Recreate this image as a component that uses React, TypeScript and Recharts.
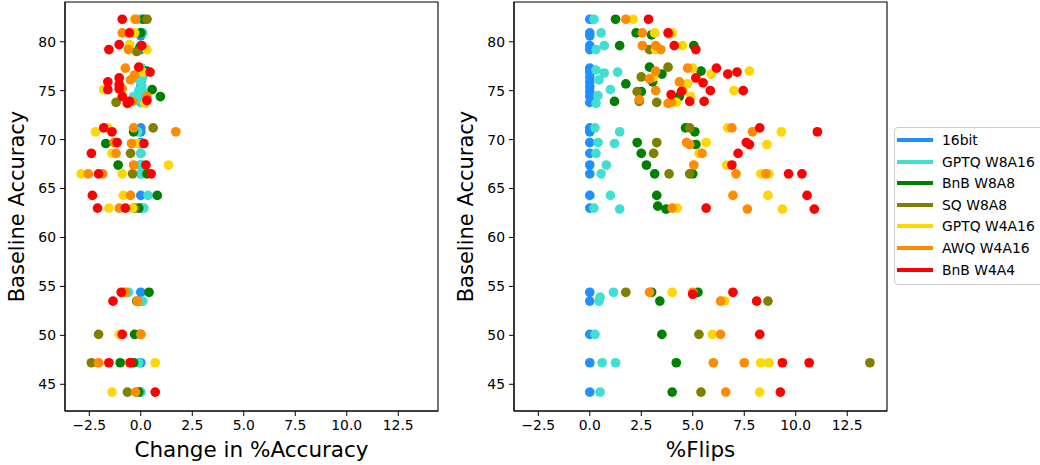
import React from 'react';
import { ScatterChart, Scatter, XAxis, YAxis, ReferenceArea } from 'recharts';

type Pt = [number, number]; // [baseline accuracy, value]

const SERIES_NAMES = ['16bit', 'GPTQ W8A16', 'BnB W8A8', 'SQ W8A8', 'GPTQ W4A16', 'AWQ W4A16', 'BnB W4A4'];
const SERIES_COLORS = ['#1E90FF', '#40E0D0', '#008000', '#808000', '#FFD700', '#FF8C00', '#FF0000'];

const X_TICKS = [-2.5, 0, 2.5, 5, 7.5, 10, 12.5];
const Y_TICKS = [45, 50, 55, 60, 65, 70, 75, 80];
const X_DOMAIN: [number, number] = [-3.68, 14.43];
const Y_DOMAIN: [number, number] = [42.27, 84.06];

// 16bit baselines (change = 0, flips = 0)
const baselines16bit = [82.3, 80.9, 80.6, 79.6, 79.2, 77.3, 76.9, 76.4, 75.9, 75.4, 74.9, 74.4, 73.8, 71.2, 70.8, 69.7, 68.6, 67.4, 66.5, 64.3, 63.0, 54.4, 53.5, 50.1, 47.2, 44.2];
const zeros16bit = [0, 0, 0, 0, 0, 0, 0, 0, 0, 0, 0, 0, 0, 0, 0, 0, 0, 0, 0, 0, 0, 0, 0, 0, 0, 0];

// ---- Change in %Accuracy ----
const accGPTQ_W8A16: Pt[] = [[82.3, 0.0], [80.9, 0.1], [79.4, 0.0], [77.3, 0.05], [77.0, 0.15], [76.4, 0.1], [76.0, -0.05], [75.4, 0.05], [75.1, 0.0], [75.0, -0.1], [74.9, 0.1], [74.4, -0.35], [74.4, 0.0], [73.8, 0.05], [70.8, -0.15], [69.6, -0.05], [68.6, 0.0], [67.4, 0.05], [66.5, 0.0], [64.3, 0.35], [63.0, 0.15], [54.4, -0.6], [53.5, 0.1], [50.1, -0.05], [47.2, -0.1], [44.2, 0.0]];
const accBnB_W8A8: Pt[] = [[82.3, 0.15], [80.9, 0.0], [79.4, -0.05], [77.0, 0.3], [75.1, 0.55], [74.4, 0.95], [70.8, -0.35], [69.6, -1.7], [67.4, -1.1], [66.5, 0.3], [64.3, 0.8], [63.0, -0.1], [54.4, 0.4], [50.1, -0.3], [47.2, -1.0], [47.2, -0.35], [44.2, -0.1]];
const accSQ_W8A8: Pt[] = [[82.3, 0.3], [79.0, -0.2], [73.8, -1.2], [71.2, 0.6], [68.6, -0.5], [66.5, -0.4], [63.0, -0.3], [53.5, -0.2], [50.1, -2.05], [47.2, -2.4], [44.2, -0.65]];
const accGPTQ_W4A16: Pt[] = [[82.3, -0.3], [80.9, -0.3], [79.7, -0.55], [79.2, 0.3], [76.9, 0.1], [75.1, -1.8], [73.7, 0.2], [71.2, -1.6], [70.8, -2.2], [69.6, -0.25], [68.6, -1.4], [67.4, 1.35], [66.5, -2.9], [66.5, -0.9], [64.3, -0.85], [63.0, -1.55], [63.0, -0.4], [54.4, -0.8], [50.1, -1.05], [47.2, 0.7], [44.2, -1.4]];
const accAWQ_W4A16: Pt[] = [[82.3, -0.25], [80.9, -0.9], [79.2, -0.6], [77.3, -0.75], [76.6, -0.3], [76.1, -0.5], [75.2, -0.9], [74.4, 0.3], [73.9, -0.4], [71.2, -0.35], [70.8, 1.7], [69.7, -1.3], [69.6, -0.45], [68.6, -1.2], [67.4, -0.35], [66.5, -2.55], [66.5, -1.85], [64.3, -0.5], [63.0, -1.05], [54.4, -0.75], [53.5, -0.15], [50.1, 0.0], [47.2, -2.05], [47.2, -0.55], [44.2, -0.25]];
const accBnB_W4A4: Pt[] = [[82.3, -0.9], [80.9, -0.55], [79.7, -1.05], [79.2, -1.55], [79.6, 0.05], [77.4, -0.1], [76.9, 0.45], [76.3, -1.05], [75.9, -1.6], [75.6, -1.05], [75.1, -1.6], [75.2, -1.05], [74.4, -0.9], [73.9, -0.55], [73.7, -0.65], [74.0, 0.3], [71.2, -1.8], [70.8, -1.4], [69.7, -1.15], [69.6, 0.15], [68.6, -2.4], [67.4, 0.25], [66.5, -2.05], [66.5, 0.5], [64.3, -2.35], [63.0, -2.1], [63.0, -0.75], [54.4, -0.95], [53.5, -1.35], [50.1, -0.9], [47.2, -1.55], [47.2, -0.5], [44.2, 0.7]];

// ---- %Flips ----
const flipsGPTQ_W8A16: Pt[] = [[82.3, 0.2], [80.9, 0.55], [79.6, 0.7], [79.2, 0.3], [77.1, 0.3], [76.9, 1.35], [76.8, 0.7], [76.1, 0.45], [75.1, 1.0], [74.5, 0.4], [73.7, 0.3], [71.2, 0.25], [70.8, 1.45], [69.7, 0.4], [69.6, 1.2], [68.6, 0.3], [67.4, 0.8], [66.5, 0.55], [64.3, 1.0], [63.0, 0.2], [62.9, 1.45], [54.4, 1.15], [53.9, 0.5], [53.5, 0.45], [50.1, 0.25], [47.2, 0.6], [47.2, 1.25], [44.2, 0.5]];
const flipsBnB_W8A8: Pt[] = [[82.3, 1.25], [80.9, 2.25], [80.7, 3.0], [79.6, 1.45], [79.6, 5.05], [77.4, 2.9], [77.0, 5.4], [76.7, 3.5], [75.9, 3.05], [75.7, 1.75], [74.9, 2.5], [74.4, 4.35], [73.9, 1.2], [71.2, 4.65], [70.8, 5.1], [69.7, 2.3], [69.5, 5.15], [68.6, 2.5], [67.4, 2.75], [66.5, 3.15], [66.5, 5.0], [64.3, 3.25], [63.2, 3.3], [62.9, 3.7], [54.4, 3.0], [54.4, 5.25], [53.5, 3.4], [50.1, 3.5], [47.2, 4.2], [44.2, 4.0]];
const flipsSQ_W8A8: Pt[] = [[79.2, 2.9], [77.4, 3.8], [76.4, 2.5], [74.9, 2.3], [73.9, 2.4], [73.8, 3.25], [71.2, 4.85], [69.7, 3.25], [68.6, 3.1], [66.5, 3.85], [66.5, 4.85], [54.4, 1.75], [53.5, 8.65], [50.1, 5.3], [47.2, 13.6], [44.2, 5.4]];
const flipsGPTQ_W4A16: Pt[] = [[82.3, 2.1], [80.9, 3.15], [80.9, 4.0], [79.2, 3.2], [79.6, 4.5], [77.3, 5.0], [76.4, 3.1], [76.7, 5.9], [77.0, 7.75], [75.7, 4.75], [75.0, 7.0], [74.4, 4.9], [73.8, 4.2], [71.2, 6.7], [70.8, 9.3], [69.7, 5.65], [69.5, 8.6], [68.6, 5.3], [67.4, 6.65], [66.5, 8.3], [66.5, 8.7], [64.3, 8.65], [63.0, 4.25], [62.9, 9.35], [54.4, 4.0], [53.5, 6.55], [50.1, 5.95], [47.2, 8.3], [47.2, 8.7], [44.2, 8.25]];
const flipsAWQ_W4A16: Pt[] = [[82.3, 1.75], [80.9, 2.55], [80.8, 3.85], [79.6, 2.55], [79.6, 3.2], [79.2, 3.45], [77.3, 4.75], [77.0, 3.2], [76.2, 2.9], [75.9, 4.35], [75.0, 3.2], [75.0, 4.5], [74.1, 2.4], [73.8, 3.95], [73.7, 3.8], [71.2, 6.9], [70.8, 7.9], [69.7, 4.7], [69.5, 4.85], [68.6, 5.45], [67.4, 5.05], [66.5, 7.1], [66.5, 8.55], [64.3, 6.95], [63.0, 4.0], [62.9, 7.65], [54.4, 2.9], [54.4, 5.0], [53.5, 6.35], [50.1, 6.35], [47.2, 6.0], [47.2, 7.5], [44.2, 6.6]];
const flipsBnB_W4A4: Pt[] = [[82.3, 2.85], [80.9, 3.8], [79.6, 4.1], [79.2, 5.15], [77.3, 6.15], [76.7, 6.7], [76.9, 7.15], [76.3, 5.15], [75.8, 5.5], [75.0, 5.85], [75.0, 7.45], [74.6, 3.95], [74.9, 4.45], [73.9, 4.85], [73.9, 5.55], [71.2, 8.25], [70.8, 11.05], [69.7, 7.6], [69.5, 7.75], [68.6, 7.2], [67.4, 6.9], [66.5, 9.65], [66.5, 10.3], [64.3, 10.55], [63.0, 5.65], [62.9, 10.9], [54.4, 6.95], [54.2, 5.0], [53.5, 8.1], [50.1, 8.25], [47.2, 9.35], [47.2, 10.65], [44.2, 9.25]];

const pts16: Pt[] = baselines16bit.map((b, i) => [b, zeros16bit[i]]);
const ACC_SERIES: Pt[][] = [pts16, accGPTQ_W8A16, accBnB_W8A8, accSQ_W8A8, accGPTQ_W4A16, accAWQ_W4A16, accBnB_W4A4];
const FLIP_SERIES: Pt[][] = [pts16, flipsGPTQ_W8A16, flipsBnB_W8A8, flipsSQ_W8A8, flipsGPTQ_W4A16, flipsAWQ_W4A16, flipsBnB_W4A4];

const FONT = 'DejaVu Sans, sans-serif';
const fmtX = (v: number) => {
  const s = Math.abs(v).toFixed(1);
  return v < 0 ? '\u2212' + s : s;
};

const Dot = (props: any) => {
  if (props.cx == null || props.cy == null) return <g />;
  return <circle cx={props.cx} cy={props.cy} r={4.85} fill={props.fill} />;
};

function Panel({ series, xLabel, left }: { series: Pt[][]; xLabel: string; left: number }) {
  return (
    <div style={{ position: 'absolute', left, top: 0, width: 450, height: 465 }}>
      <ScatterChart width={450} height={465} margin={{ top: 2, right: 12, bottom: 0, left: 0 }}>
        <XAxis
          type="number"
          dataKey="x"
          domain={X_DOMAIN}
          ticks={X_TICKS}
          interval={0}
          allowDataOverflow
          tickFormatter={fmtX}
          tickSize={5}
          tickMargin={4}
          height={54}
          stroke="#000"
          tick={{ fill: '#000', fontSize: 13.9, fontFamily: FONT }}
          label={{ value: xLabel, position: 'insideBottom', offset: 8, style: { fontSize: 21.5, fill: '#000', fontFamily: FONT } }}
        />
        <YAxis
          type="number"
          dataKey="y"
          domain={Y_DOMAIN}
          ticks={Y_TICKS}
          interval={0}
          allowDataOverflow
          tickSize={5}
          tickMargin={4}
          width={65}
          stroke="#000"
          tick={{ fill: '#000', fontSize: 13.9, fontFamily: FONT }}
          label={{ value: 'Baseline Accuracy', angle: -90, position: 'insideLeft', offset: 17, style: { textAnchor: 'middle', fontSize: 21, fill: '#000', fontFamily: FONT } }}
        />
        {series.map((pts, i) => (
          <Scatter
            key={SERIES_NAMES[i]}
            name={SERIES_NAMES[i]}
            data={pts.map(([y, x]) => ({ x, y }))}
            fill={SERIES_COLORS[i]}
            shape={Dot}
            isAnimationActive={false}
          />
        ))}
        <ReferenceArea x1={X_DOMAIN[0]} x2={X_DOMAIN[1]} y1={Y_DOMAIN[0]} y2={Y_DOMAIN[1]} fill="none" fillOpacity={0} stroke="#000" strokeWidth={1.1} ifOverflow="visible" />
      </ScatterChart>
    </div>
  );
}

function LegendBox() {
  return (
    <div
      style={{
        position: 'absolute',
        left: 894,
        top: 127,
        width: 160,
        height: 158,
        border: '1px solid #cccccc',
        borderRadius: 4,
        background: 'rgba(255,255,255,0.8)',
        boxSizing: 'border-box',
        fontFamily: FONT,
        fontSize: 13.9,
        color: '#000',
      }}
    >
      {SERIES_NAMES.map((name, i) => (
        <div key={name} style={{ position: 'absolute', left: 0, top: 2 + i * 21.6, height: 20, width: 160 }}>
          <div style={{ position: 'absolute', left: 2, top: 8, width: 36, height: 4, background: SERIES_COLORS[i] }} />
          <div style={{ position: 'absolute', left: 47, top: 1, lineHeight: '18px', whiteSpace: 'nowrap' }}>{name}</div>
        </div>
      ))}
    </div>
  );
}

export default function App() {
  return (
    <div style={{ position: 'absolute', left: 0, top: 0, width: 1040, height: 465, background: '#fff', overflow: 'hidden', fontFamily: FONT }}>
      <Panel series={ACC_SERIES} xLabel="Change in %Accuracy" left={0} />
      <Panel series={FLIP_SERIES} xLabel="%Flips" left={449} />
      <LegendBox />
    </div>
  );
}
